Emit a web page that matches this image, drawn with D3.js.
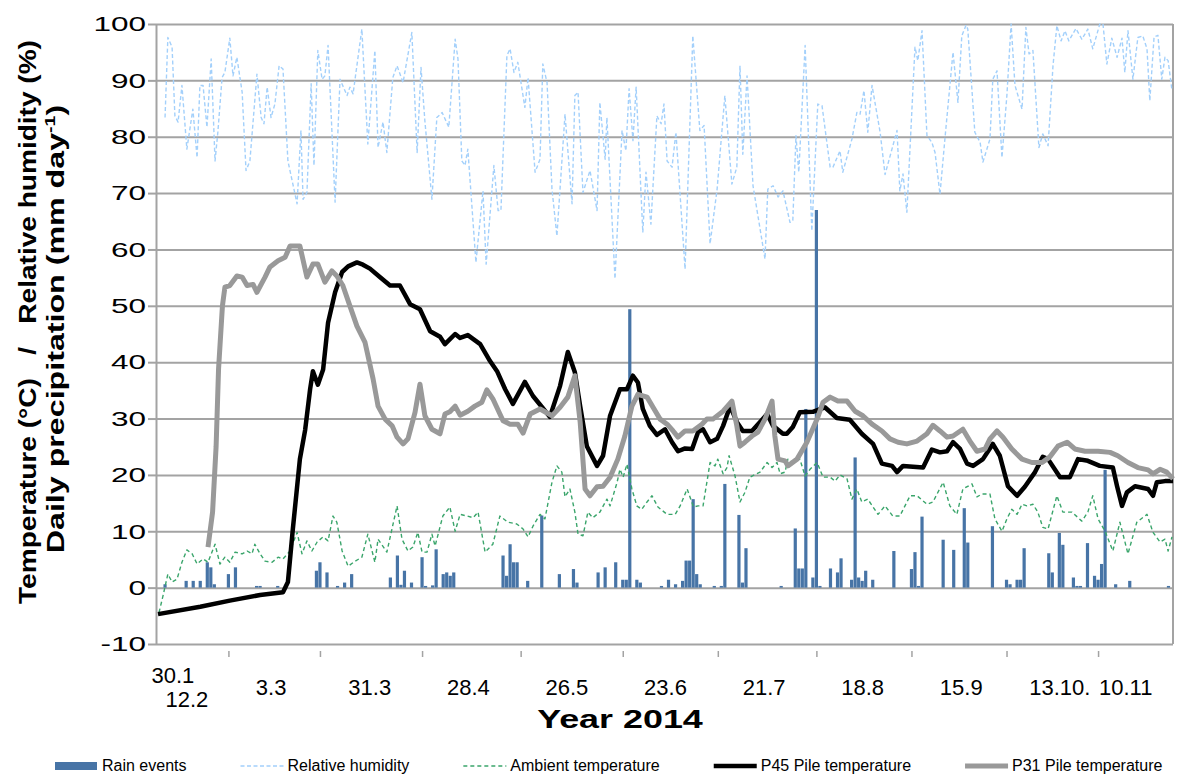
<!DOCTYPE html>
<html>
<head>
<meta charset="utf-8">
<script src="https://cdn.jsdelivr.net/npm/d3@7/dist/d3.min.js"></script>
<style>
  body { margin: 0; background: #fff; }
  svg { display: block; font-family: "Liberation Sans", Arial, sans-serif; }
</style>
</head>
<body>
<svg id="chart" width="1182" height="774"></svg>
<script>
// all series are [day offset from 30.1.2014, value]
const startDate = new Date(2014, 0, 30);

const labelDates = ["2014-01-30", "2014-02-12", "2014-03-03", "2014-03-31", "2014-04-28", "2014-05-26",
    "2014-06-23", "2014-07-21", "2014-08-18", "2014-09-15", "2014-10-13", "2014-11-10"];
const labelText = ["30.1", "12.2", "3.3", "31.3", "28.4", "26.5", "23.6", "21.7", "18.8", "15.9", "13.10.", "10.11"];
const tickDays = [20, 46, 75, 103, 132, 159, 187, 214, 241, 267];
const yTicks = [-10, 0, 10, 20, 30, 40, 50, 60, 70, 80, 90, 100];

const rain = [[2, 0.6], [8, 1.2], [10, 1.2], [12, 1.2], [14, 4.5], [15, 3.6], [16, 0.6], [20, 2.4], [22, 3.6],
    [28, 0.3], [29, 0.3], [34, 0.3], [45, 3.0], [46, 4.5], [48, 2.7], [51, 0.3], [53, 0.9], [55, 2.4],
    [66, 1.8], [68, 5.7], [69, 0.5], [70, 3.0], [72, 0.9], [75, 5.4], [76, 0.3], [78, 0.4], [79, 6.8],
    [81, 2.4], [82, 2.7], [83, 2.1], [84, 2.7], [98, 5.7], [99, 2.1], [100, 7.7], [101, 4.5], [102, 4.5],
    [105, 1.2], [109, 12.8], [114, 2.4], [118, 3.3], [119, 0.9], [125, 2.7], [127, 3.6], [130, 4.5],
    [132, 1.4], [133, 1.4], [134, 49.4], [136, 1.4], [137, 0.9], [143, 0.3], [145, 1.4], [147, 0.6],
    [149, 1.2], [150, 4.8], [151, 4.8], [152, 15.7], [153, 2.4], [154, 0.6], [158, 0.3], [160, 0.3],
    [161, 18.4], [165, 12.9], [166, 0.9], [167, 7.0], [177, 0.3], [181, 10.5], [182, 3.4], [183, 3.4],
    [184, 31.7], [186, 1.8], [187, 67], [188, 0.3], [191, 3.4], [193, 2.7], [194, 5.2], [197, 1.4],
    [198, 23.1], [199, 1.8], [200, 1.2], [201, 3.0], [203, 1.4], [209, 6.5], [214, 3.3], [215, 6.3],
    [216, 0.3], [217, 12.6], [223, 8.5], [226, 6.7], [229, 14.1], [230, 8.0], [237, 10.9], [241, 1.4],
    [242, 0.6], [244, 1.4], [245, 1.4], [246, 7.0], [253, 6.1], [254, 2.7], [256, 9.7], [257, 7.6],
    [260, 1.8], [261, 0.3], [262, 0.3], [264, 7.9], [266, 2.1], [267, 1.4], [268, 4.2], [269, 20.9],
    [272, 0.6], [276, 1.2], [287, 0.3]];

const humidity = [[2, 83.4], [2.8, 97.6], [4, 95.9], [4.8, 83.7], [5.7, 82.6], [6.8, 89.1], [8.2, 77.8],
    [9.9, 84.9], [11.1, 76.3], [11.9, 89.1], [12.8, 89.1], [13.9, 81.7], [15.1, 93.8], [16.2, 75.7],
    [17, 80.8], [18.2, 90.5], [19, 91.4], [20.4, 97.5], [21.3, 90.8], [22.4, 94.1], [23.9, 87.9], [25, 74],
    [26.1, 75.7], [28.1, 91.1], [29.3, 83.4], [30.1, 82.3], [31, 88.8], [32.1, 83.4], [33.2, 85.8],
    [34.4, 92.6], [35.5, 92], [36.9, 75.7], [39.5, 68.1], [40.6, 81.1], [41.2, 68.9], [42.3, 70.1],
    [43.5, 89.4], [44.3, 74.9], [45.4, 95.3], [46.6, 90.2], [47.4, 90.8], [48.3, 96.2], [50.3, 68.4],
    [51.7, 90.2], [53.7, 87.3], [54.5, 88.8], [55.4, 87.6], [57.9, 99.1], [59.6, 78.7], [61.6, 95.3],
    [62.5, 78.1], [63.9, 82.6], [65, 77.2], [66.7, 90.5], [67.9, 92.6], [69.6, 89.6], [72.1, 98.5],
    [73.6, 77.2], [74.7, 92.3], [75.8, 82.8], [77.8, 68.9], [79.2, 83.4], [80.7, 84.3], [82.6, 81.7],
    [84.4, 97.3], [85.2, 93.8], [86.3, 75.7], [87.2, 74.9], [88, 77.8], [90.3, 57.7], [92.3, 70.4],
    [93.2, 57.4], [95.4, 74.9], [96.6, 66.9], [97.4, 66.9], [99.1, 94.4], [100, 95.6], [101.1, 91.4],
    [102.2, 93.2], [104.2, 85.2], [105.1, 90.5], [107.1, 73.7], [108.5, 76], [109.3, 92.9], [110.5, 89.6],
    [111.9, 70.7], [113.3, 62.4], [115.6, 84], [117.6, 68.1], [118.4, 87.3], [119.3, 87.9], [120.7, 70.1],
    [122.7, 74], [124.7, 66.9], [125.5, 86.1], [127, 76], [127.5, 83.4], [129.8, 54.8], [131.8, 81.1],
    [132.9, 77.5], [133.8, 88.5], [134.9, 79.3], [135.8, 88.8], [137.7, 63], [138.6, 73.7], [140, 64.5],
    [141.7, 83.7], [142.9, 82.3], [143.7, 85.8], [144.6, 75.7], [146, 74.6], [147.1, 80.8], [149.7, 56.5],
    [151.9, 97.9], [153.9, 81.1], [155.1, 82], [156.8, 61], [158.8, 70.7], [161, 87.3], [163, 71.6],
    [164.4, 74.6], [165.3, 92.6], [166.1, 76.9], [167.3, 90.8], [169, 71.3], [172.4, 58.3], [173.2, 70.7],
    [174.7, 71.3], [176.1, 69.3], [177.5, 70.4], [179.5, 64.8], [180.3, 65.1], [181.2, 80.2], [182, 73.7],
    [183.8, 96.2], [185.7, 63.3], [187.4, 85.8], [188.6, 85.5], [190.9, 74.6], [191.7, 74.6], [193.7, 77.5],
    [194.5, 73.7], [197.1, 79.6], [198.5, 84.3], [199.4, 84], [200.5, 88.2], [201.6, 80.8], [202.8, 89.1],
    [205.1, 80.8], [206.5, 73.3], [209.9, 81.1], [210.7, 70.4], [211.6, 73.4], [212.7, 66.6], [215, 95.9],
    [215.8, 93.5], [217, 98.8], [218.4, 80.2], [219.8, 79], [220.7, 77.2], [222.1, 69.8], [223.5, 79.6],
    [225.8, 95], [227.2, 86.1], [228.3, 97.9], [229.5, 99.8], [230, 99.1], [232, 80.8], [233.5, 79],
    [234.3, 75.5], [236.3, 79.6], [237.1, 90.2], [238.3, 91.7], [239.7, 76.3], [241.1, 87.3], [242.3, 100],
    [243.4, 89.1], [245.4, 84.9], [246.5, 99.4], [247.4, 94.7], [248.5, 95.3], [250.2, 78.1], [251.3, 80.5],
    [252.8, 78.4], [254.2, 92.6], [255.3, 99.7], [256.5, 97], [257.6, 98.8], [258.7, 97], [260.7, 99.2],
    [262.4, 97.3], [264.1, 99.1], [265.5, 95.6], [267.5, 100], [268.4, 100], [269.5, 92.9], [270.9, 97.5],
    [272.4, 94.1], [273.8, 97.5], [274.6, 91.4], [275.5, 98.8], [276.9, 90.2], [278.3, 97.6], [279.7, 97.9],
    [280.9, 95.6], [281.7, 86.4], [282.9, 97.7], [284, 98], [285.1, 90.2], [286, 94.1], [286.9, 93.5],
    [288, 88.2]];

const ambient = [[0.3, -4.4], [1.4, -1.5], [2.8, 2.4], [4, 1], [5.4, 1.5], [6.8, 4.5], [8.2, 6.7], [9.7, 6],
    [11.1, 4.2], [12.8, 5.1], [14.2, 4.5], [16.2, 7.7], [17.6, 4.2], [19, 5.4], [20.4, 4.5], [21.9, 6.3],
    [23.9, 6], [25.3, 6.5], [26.7, 6], [27.5, 7.7], [29, 6], [30.4, 4.7], [32.4, 4.5], [34.1, 5.4],
    [35.5, 5.1], [37.5, 6.5], [39.5, 9.8], [40.9, 6], [42.3, 8.3], [43.7, 6.5], [45.2, 8.1], [46.9, 9],
    [48.3, 8.3], [49.7, 12.7], [50.8, 11.6], [52.3, 6.5], [54, 3.8], [56, 4.7], [57.9, 5.4], [59.6, 9.5],
    [61.6, 4.5], [62.5, 8.6], [65, 6.3], [67.9, 14.5], [69.3, 8.6], [71, 6.5], [72.4, 7.2], [73.8, 9.8],
    [75, 6.3], [76.4, 6.3], [77.8, 9.5], [78.7, 7.4], [80.9, 12.7], [82.9, 14.3], [84.4, 10], [85.8, 13],
    [87.8, 12.7], [89.5, 12.4], [90.9, 13.4], [92.9, 6.3], [95.1, 7.7], [97.1, 12.7], [99.4, 11.6],
    [101.9, 11.3], [103.7, 10.4], [105.1, 9], [106.5, 10.9], [108.5, 13], [109.9, 12.2], [111.9, 18.7],
    [113.3, 21.6], [114.7, 20.5], [115.6, 16.1], [117, 17.5], [118.4, 13.4], [119.3, 9.5], [120.7, 9.2],
    [122.1, 13.4], [123.5, 12.4], [125.5, 13.4], [127.5, 15.7], [128.4, 14.5], [130.4, 18.7], [131.2, 21],
    [132.1, 19.6], [133.2, 21.9], [134.6, 17.5], [136, 14.5], [137.4, 13.9], [138.9, 15.2], [140.3, 16.3],
    [142, 14.3], [144.6, 13], [146.9, 13], [148.3, 14.5], [150.3, 17.5], [152.1, 14.3], [153.4, 14.5],
    [154.8, 14.5], [156.8, 22.2], [158.2, 21.6], [159, 22.8], [160.5, 20.2], [161.6, 21.3], [162.2, 23.4],
    [163.9, 19.8], [165.3, 15.2], [166.7, 16.9], [168.1, 19.6], [171, 20.5], [173, 22.2], [174.4, 21.3],
    [175.8, 22.2], [176.7, 20.2], [178.1, 20.5], [178.9, 22.8], [180.3, 22.2], [182.3, 22.8], [183.8, 19.8],
    [185.2, 21], [187.2, 22.2], [188.9, 19.6], [190.9, 19.6], [192.3, 18.9], [193.7, 20], [195.7, 19.3],
    [197.1, 15.7], [198.5, 17.5], [199.9, 15.2], [201.6, 15.7], [204.5, 13], [206.5, 14.5], [208.7, 12.7],
    [210.7, 12.7], [213.6, 16.3], [215.6, 16.3], [218.4, 14.8], [220.1, 15.2], [223, 18.7], [224.9, 14.5],
    [226.9, 13], [228.6, 17.5], [231.2, 18.4], [232.6, 16.1], [234, 16.6], [236.3, 16.6], [237.7, 12.2],
    [239.7, 10], [241.1, 12.2], [242.5, 13.9], [244, 13], [245.4, 14.8], [246.8, 14.5], [248.5, 14.8],
    [249.9, 13.4], [251.3, 10.7], [252.8, 10.4], [255.3, 16.3], [257, 13.4], [259.6, 13.4], [262.4, 11.8],
    [264.1, 13.4], [265.5, 16.3], [267, 12.2], [269, 10], [271.2, 6.5], [273.2, 11.6], [275.5, 6],
    [278, 11.6], [280.9, 13], [282.6, 9.8], [284.6, 8.1], [286, 8.6], [286.9, 6.5], [288, 9]];

const pileP45 = [[0, -4.7], [12, -3.4], [20.4, -2.3], [29, -1.3], [35.5, -0.8], [36.9, 1.0], [38.3, 10.4],
    [40.3, 22.8], [41.8, 28], [43.2, 35.2], [44, 38.4], [45.4, 36], [46.9, 38.7], [48.3, 47], [50.3, 52.4],
    [52.3, 56], [54, 57], [56.5, 57.7], [58.2, 57.3], [60.2, 56.6], [63, 55.1], [65.9, 53.6], [68.7, 53.6],
    [71.6, 50.3], [74.4, 49.4], [77.3, 45.5], [80.1, 44.5], [81.5, 43.2], [84.4, 45], [85.8, 44.3],
    [88, 44.8], [91.5, 43.2], [94.3, 40.2], [96.3, 38.4], [98.6, 35.2], [100.8, 32.6], [104.2, 36.5],
    [106.5, 34], [109.1, 32], [111.3, 30.3], [114.2, 35.8], [116.4, 41.8], [118.4, 38.2], [119.9, 32.2],
    [121.8, 25.1], [124.7, 21.6], [126.4, 23.4], [128.4, 30.5], [131.2, 35.2], [133.2, 35.2], [134.9, 37.6],
    [136.3, 36.4], [137.7, 31.7], [139.7, 28.7], [141.7, 27.1], [144, 28.1], [146, 25.8], [147.7, 24.2],
    [149.7, 24.7], [151.7, 24.6], [153.4, 27.6], [154.8, 28.1], [156.8, 25.8], [158.8, 26.4], [160.5, 28.7],
    [162.5, 32.2], [164.4, 29.4], [166.1, 27.8], [168.7, 27.8], [171, 29.4], [173, 30.8], [174.7, 28.7],
    [177.5, 27.3], [178.6, 27.3], [180.3, 28.5], [182.3, 31.1], [186, 31.2], [189.4, 32], [192.8, 30.1],
    [196.5, 29.8], [199.9, 27.3], [203.1, 25.5], [205.6, 22], [208.5, 21.6], [209.9, 20.5], [211.6, 21.6],
    [217.3, 21.3], [219.8, 24.5], [222.1, 24], [224.1, 24.2], [225.8, 25.8], [227.8, 24.6], [229.8, 22],
    [231.5, 21.6], [234.3, 22.8], [237.1, 25.5], [239.1, 23.4], [241.4, 18], [244, 16.3], [246.2, 17.9],
    [249.1, 20.5], [251.3, 23.2], [252.8, 22.8], [256.2, 19.6], [259, 19.6], [261.3, 22.8], [264.1, 22.5],
    [267.5, 21.6], [271.2, 21.3], [272.4, 18], [273.8, 14.5], [275.2, 16.9], [277.5, 18], [281.2, 17.5],
    [282.6, 16.3], [283.7, 18.7], [286, 18.9], [288.3, 18.9]];

const pileP31 = [[14.2, 7.2], [15.5, 13.4], [16.5, 25], [17.2, 38.8], [18.3, 50], [19, 53.3], [20.4, 53.6],
    [22.4, 55.3], [23.9, 55.1], [25.3, 53.6], [27, 53.8], [28.1, 52.4], [30.4, 55.1], [31.8, 56.9],
    [34.1, 58], [36.1, 58.6], [37.5, 60.6], [40.3, 60.6], [42.3, 55.1], [44, 57.4], [45.4, 57.4],
    [47.4, 54.2], [49.4, 56.2], [50.8, 55.3], [52.5, 53.6], [54.5, 50], [56.5, 46.4], [58.8, 43.5],
    [59.4, 41.8], [61.1, 37], [62.5, 32.2], [64.5, 29.9], [66.5, 28.7], [67.9, 26.7], [69.6, 25.5],
    [71, 26.4], [73, 31.1], [74.4, 36.1], [75.8, 30.5], [77.8, 28.1], [80.1, 27.3], [81.5, 30.8],
    [82.9, 31.2], [84.4, 32.2], [85.8, 30.6], [88, 31.3], [90, 32.2], [92, 32.9], [93.4, 35.1], [95.1, 33.5],
    [98, 29.6], [100, 29], [102.2, 29], [103.7, 27.4], [105.7, 30.8], [108.5, 31.7], [111.9, 30.5],
    [114.2, 32], [116.4, 33.8], [118.4, 37.6], [119.9, 29.4], [121.3, 17.5], [122.7, 16.3], [124.7, 17.9],
    [126.4, 18], [128.4, 19.6], [130.6, 22.8], [132.6, 26.9], [134.6, 32.2], [136.3, 34.3], [138.9, 33.8],
    [140.6, 32], [142.6, 29.9], [144.6, 29], [146.3, 27.8], [147.7, 26.7], [149.7, 27.8], [151.9, 27.8],
    [154.5, 29], [155.9, 29.9], [157.6, 29.9], [160.5, 31.3], [163, 33.1], [164.4, 28.7], [165.3, 25.1],
    [166.7, 25.8], [168.7, 26.9], [170.4, 27.6], [172.4, 29.9], [174.4, 33.1], [175.2, 26.9], [176.1, 22.8],
    [178.1, 22.5], [178.9, 21.6], [181.5, 22.8], [184.3, 25.8], [187.2, 29.9], [188.9, 32.9], [190.9, 33.8],
    [193.1, 33.1], [195.7, 33.1], [198, 31.3], [200.2, 30.5], [202.8, 29], [205.6, 27.8], [207.9, 26.4],
    [210.2, 25.8], [212.7, 25.5], [215.6, 26], [218.4, 27.3], [220.1, 28.8], [222.1, 27.8], [224.1, 26.7],
    [225.8, 26.9], [228.6, 28.1], [230.6, 26], [232.6, 24.2], [234.9, 24.6], [236.3, 26.4], [238.3, 27.8],
    [240, 26.7], [242.5, 24.6], [245.4, 22.8], [248.2, 22.2], [251.1, 22.2], [253.3, 23.2], [255.6, 25.1],
    [258.2, 25.8], [260.4, 24.6], [263.3, 24.2], [267, 24.2], [270.4, 24], [272.6, 23.4], [275.5, 22.2],
    [278.3, 21.3], [281.2, 20.9], [282.6, 20.2], [284.6, 21], [286.5, 20.5], [288.3, 19.3]];

const legendItems = ["Rain events", "Relative humidity", "Ambient temperature", "P45 Pile temperature", "P31 Pile temperature"];

const gridColor = "#a3a3a3";
const styles = [
    { color: "#4774a6" },
    { color: "#a3d0fb", width: 1.4, dash: "4,2.5" },
    { color: "#3aa56b", width: 1.4, dash: "4,3" },
    { color: "#000", width: 4.5 },
    { color: "#999", width: 5 }
];

const svg = d3.select("#chart");
const plotL = 156, plotR = 1173, plotT = 24, plotB = 644;

const toDate = d => new Date(startDate.getTime() + d * 864e5);
const x = d3.scaleTime().domain([startDate, toDate(288)]).range([plotL + 2, plotR - 1]);
const y = d3.scaleLinear().domain([-10, 100]).range([plotB, plotT]);

// gridlines + frame
const grid = svg.append("g").attr("transform", `translate(${plotL},0)`)
    .call(d3.axisLeft(y).tickValues(yTicks).tickSize(-(plotR - plotL)).tickFormat(""));
grid.select(".domain").remove();
grid.selectAll("line").attr("stroke", gridColor).attr("stroke-width", 2);

const yAxis = svg.append("g").attr("transform", `translate(${plotL},0)`)
    .call(d3.axisLeft(y).tickValues(yTicks).tickSize(8).tickSizeOuter(0).tickPadding(9).tickFormat(d => String(d)));
yAxis.select(".domain").attr("stroke", gridColor).attr("stroke-width", 2);
yAxis.selectAll("line").attr("stroke", gridColor).attr("stroke-width", 2);
const ySx = 1.5;
yAxis.selectAll("text")
    .attr("font-size", 21).attr("fill", "#000")
    .attr("x", -10 / ySx)
    .attr("transform", `scale(${ySx},1)`);

svg.append("line")
    .attr("x1", plotR).attr("x2", plotR).attr("y1", plotT).attr("y2", plotB)
    .attr("stroke", gridColor).attr("stroke-width", 2);

// x ticks (between labels) and labels
const xTicks = svg.append("g").attr("transform", `translate(0,651)`)
    .call(d3.axisBottom(x).tickValues(tickDays.map(toDate)).tickSize(6).tickFormat(""));
xTicks.select(".domain").remove();
xTicks.selectAll("line").attr("stroke", gridColor).attr("stroke-width", 1.5);

const lastIdx = labelText.length - 1;
const xLabels = svg.append("g").attr("transform", `translate(0,695)`)
    .call(d3.axisBottom(x).tickValues(labelDates.map(d => d3.timeParse("%Y-%m-%d")(d)))
        .tickSize(0).tickFormat((d, i) => labelText[i]));
xLabels.select(".domain").remove();
xLabels.selectAll("text")
    .attr("font-size", 22).attr("fill", "#000")
    .attr("dy", 0)
    .attr("y", (d, i) => i === 0 ? -12 : i === 1 ? 12 : 0)
    .attr("text-anchor", (d, i) => i < 2 ? "start" : i === lastIdx ? "end" : "middle")
    .attr("dx", (d, i) => i === 0 ? -7 : i === 1 ? -(x(d) - x(startDate)) + 7 : i === lastIdx ? -6 : 0);

svg.append("text")
    .attr("transform", "translate(620,728) scale(1.38,1)")
    .attr("text-anchor", "middle").attr("font-size", 26).attr("font-weight", "bold")
    .text("Year 2014");

// y axis title, two rotated lines
const yTitle = svg.append("g").attr("font-weight", "bold").attr("font-size", 23);
yTitle.append("text")
    .attr("transform", "translate(36,322) rotate(-90) scale(1.22,1)")
    .attr("text-anchor", "middle")
    .attr("xml:space", "preserve")
    .text("Temperature (°C)   /   Relative humidity (%)");
const t2 = yTitle.append("text")
    .attr("transform", "translate(64,329) rotate(-90) scale(1.4,1)")
    .attr("text-anchor", "middle");
t2.append("tspan").text("Daily precipitation (mm day");
t2.append("tspan").attr("font-size", 14).attr("dy", -9).text("-1");
t2.append("tspan").attr("dy", 9).text(")");

// rain bars
const barW = 3.2;
svg.append("g").selectAll("rect")
    .data(rain)
    .join("rect")
    .attr("x", d => x(toDate(d[0])) - barW / 2)
    .attr("width", barW)
    .attr("y", d => y(d[1]))
    .attr("height", d => y(0) - y(d[1]))
    .attr("fill", styles[0].color);

const line = d3.line().x(d => x(toDate(d[0]))).y(d => y(d[1]));
[humidity, ambient, pileP45, pileP31].forEach((series, i) => {
    const s = styles[i + 1];
    svg.append("path")
        .datum(series)
        .attr("d", line)
        .attr("fill", "none")
        .attr("stroke", s.color)
        .attr("stroke-width", s.width)
        .attr("stroke-dasharray", s.dash || null)
        .attr("stroke-linejoin", "round");
});

// legend
const legend = svg.append("g").attr("font-size", 16);
let lx = 55;
legendItems.forEach((name, i) => {
    const s = styles[i];
    const g = legend.append("g").attr("transform", `translate(${lx},766)`);
    if (i === 0) {
        g.append("rect").attr("x", 0).attr("y", -4).attr("width", 42).attr("height", 8).attr("fill", s.color);
    } else {
        g.append("line").attr("x1", 0).attr("x2", 43).attr("y1", 0).attr("y2", 0)
            .attr("stroke", s.color).attr("stroke-width", s.width)
            .attr("stroke-dasharray", s.dash || null);
    }
    const txt = g.append("text").attr("x", 47).attr("y", 5).attr("fill", "#000").text(name);
    lx += 47 + txt.node().getComputedTextLength() + 54;
});
</script>
</body>
</html>
